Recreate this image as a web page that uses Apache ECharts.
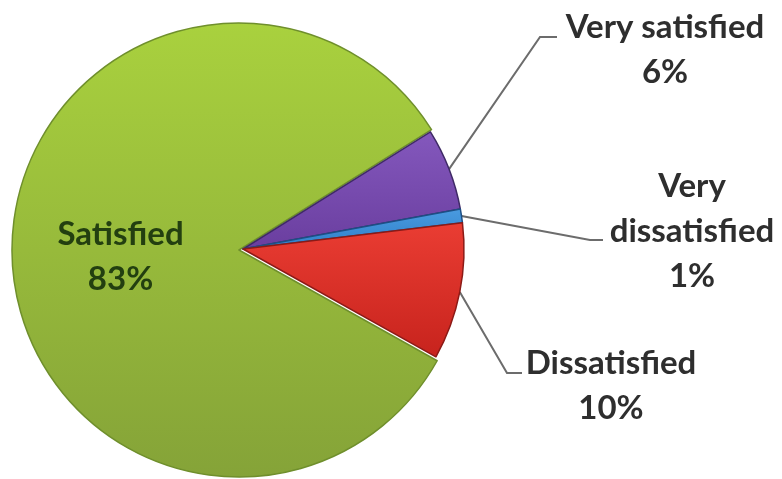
<!DOCTYPE html>
<html>
<head>
<meta charset="utf-8">
<script src="https://cdn.jsdelivr.net/npm/echarts@6/dist/echarts.min.js"></script>
<style>
  html, body { margin: 0; padding: 0; background: #ffffff; }
  #chart { width: 782px; height: 479px; }
</style>
</head>
<body>
<div id="chart"></div>
<script>
// Survey answers, clockwise from the top of the purple slice
const categories = ['Very satisfied', 'Very dissatisfied', 'Dissatisfied', 'Satisfied'];
const labelText = ['Very satisfied', 'Very\ndissatisfied', 'Dissatisfied', 'Satisfied'];
const percentages = [6, 1, 10, 83];

// Slice fills (top colour, bottom colour) and outline colours
const fills = [
  ['#8458bd', '#6a3e9f'],
  ['#4a9be0', '#2f7fc8'],
  ['#ea3d33', '#c7231d'],
  ['#a9d13e', '#85a338']
];
const outlines = ['#3f2a66', '#1d4f85', '#8c1a16', '#6f8f2c'];

// Where each outer label sits and how its leader line bends
const outerLabels = {
  0: { x: 665, y: 50, bend: [540, 37], end: [557, 37] },
  1: { x: 692, y: 231, bend: [590, 240], end: [603, 240] },
  2: { x: 611, y: 386, bend: [507, 373], end: [522, 373] }
};

const SATISFIED = categories.indexOf('Satisfied');

function gradient(pair) {
  return new echarts.graphic.LinearGradient(0, 0, 0, 1, [
    { offset: 0, color: pair[0] },
    { offset: 1, color: pair[1] }
  ]);
}

const labelFont = {
  fontFamily: 'Lato',
  fontWeight: 'bold',
  fontSize: 33,
  lineHeight: 45
};

// The large slice, drawn on its own so the small slices can sit slightly apart
const bigSliceData = categories.map((name, i) => ({
  name: name,
  value: percentages[i],
  itemStyle: i === SATISFIED
    ? { color: gradient(fills[i]), borderColor: outlines[i], borderWidth: 1.5 }
    : { color: 'transparent', borderWidth: 0 },
  label: { show: i === SATISFIED }
}));

// The three small slices, nudged to the right of the pie centre
const smallSliceData = categories.map((name, i) => ({
  name: name,
  value: percentages[i],
  itemStyle: i !== SATISFIED
    ? { color: gradient(fills[i]), borderColor: outlines[i], borderWidth: 1.5 }
    : { color: 'transparent', borderWidth: 0 },
  label: { show: i !== SATISFIED },
  labelLine: { show: i !== SATISFIED }
}));

const chart = echarts.init(document.getElementById('chart'), null, { renderer: 'canvas' });

chart.setOption({
  animation: false,
  backgroundColor: '#ffffff',
  series: [
    {
      type: 'pie',
      silent: true,
      center: [239, 250],
      radius: [0, 227],
      startAngle: 32,
      clockwise: true,
      data: bigSliceData,
      label: Object.assign({
        position: 'inside',
        color: '#233f10',
        formatter: p => labelText[p.dataIndex] + '\n' + p.value + '%'
      }, labelFont),
      labelLayout: p => ({ dx: -2, dy: 4 }),
      labelLine: { show: false }
    },
    {
      type: 'pie',
      silent: true,
      center: [243, 249],
      radius: [0, 221],
      startAngle: 32,
      clockwise: true,
      data: smallSliceData,
      label: Object.assign({
        position: 'outside',
        color: '#2e2e2e',
        align: 'center',
        formatter: p => labelText[p.dataIndex] + '\n' + p.value + '%'
      }, labelFont),
      labelLine: {
        show: true,
        length: 20,
        length2: 10,
        lineStyle: { color: '#6c6c6c', width: 2 }
      },
      labelLayout: function (p) {
        const cfg = outerLabels[p.dataIndex];
        if (!cfg) return {};
        const start = p.labelLinePoints ? p.labelLinePoints[0] : cfg.bend;
        return {
          x: cfg.x,
          y: cfg.y,
          align: 'center',
          verticalAlign: 'middle',
          labelLinePoints: [start, cfg.bend, cfg.end]
        };
      }
    }
  ]
});
</script>
</body>
</html>
